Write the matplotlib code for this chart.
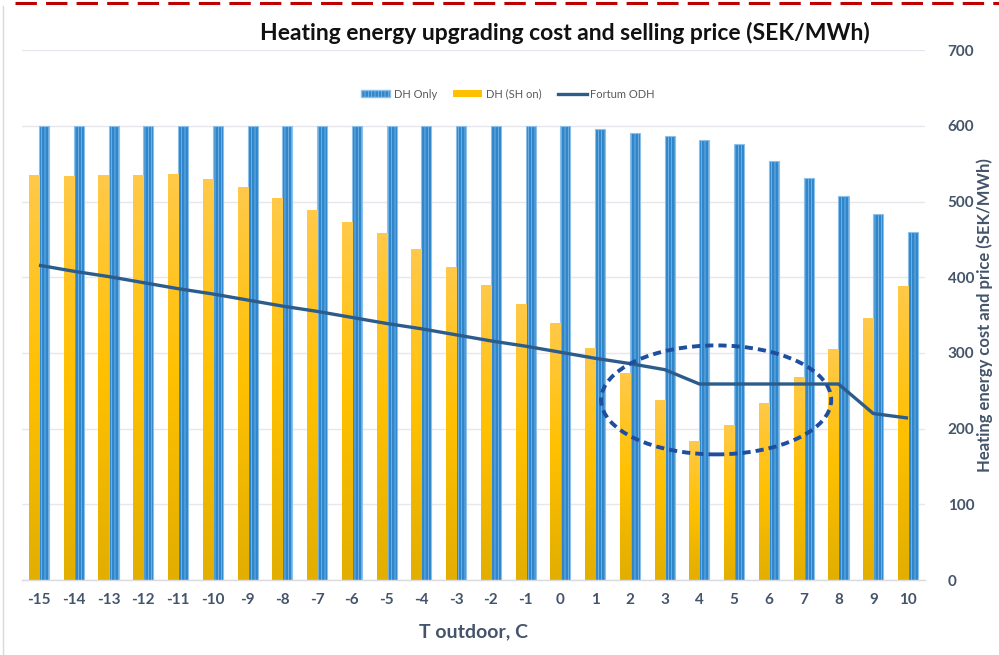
import numpy as np
import matplotlib
matplotlib.use("Agg")
import matplotlib.pyplot as plt
from matplotlib.patches import Ellipse, Patch
from matplotlib.lines import Line2D
from matplotlib.colors import LinearSegmentedColormap

# Outdoor temperature categories
temps = list(range(-15, 11))

# Upgrading cost, district heating only (SEK/MWh)
dh_only = [600, 600, 600, 600, 600, 600, 600, 600, 600, 600, 600, 600, 600, 600, 600, 600,
           596, 591, 587, 581, 576, 554, 531, 507, 484, 460]

# Upgrading cost, district heating with SH on (SEK/MWh)
dh_sh_on = [535, 534, 535, 535, 537, 530, 519, 505, 489, 473, 459, 437, 414, 390, 365, 340,
            307, 274, 238, 184, 205, 234, 268, 305, 346, 388]

# Fortum open district heating selling price (SEK/MWh)
fortum_odh = [416, 408, 401, 393, 385, 378, 370, 362, 355, 347, 339, 332, 324, 316, 309, 301,
              293, 286, 278, 259, 259, 259, 259, 259, 220, 214]

right_ticks = [0, 100, 200, 300, 400, 500, 600, 700]

plt.rcParams["font.family"] = ["Lato", "DejaVu Sans"]
plt.rcParams["hatch.linewidth"] = 0.5

TEXT = "#44546A"
BLUE = "#2F86CB"
BLUE_EDGE = "#8DC0EA"
LINE = "#2B5C8C"

fig = plt.figure(figsize=(9.99, 6.55), dpi=100)
ax = fig.add_axes([21.6 / 999, 75 / 655, (925.4 - 21.6) / 999, (580 - 50.3) / 655])

x = np.arange(len(temps))
w = 0.288

# Yellow bars with a vertical gradient fill
gold = LinearSegmentedColormap.from_list("gold", ["#E2AE00", "#FFC000", "#FFC94A"])
grad = np.linspace(0, 1, 256).reshape(-1, 1)
ybars = ax.bar(x - w / 2, dh_sh_on, width=w, color="#FFC000", edgecolor="none", zorder=2)
for b in ybars:
    x0, h = b.get_x(), b.get_height()
    im = ax.imshow(grad, extent=[x0, x0 + w, 0, h], origin="lower", cmap=gold,
                   aspect="auto", zorder=2.1, interpolation="bilinear")
    im.set_clip_path(b)

# Blue textured bars
ax.bar(x + w / 2, dh_only, width=w, color=BLUE, edgecolor=BLUE_EDGE, linewidth=0.8,
       hatch="|||||", zorder=2)

# Selling price line
ax.plot(x, fortum_odh, color=LINE, lw=2.4, zorder=4, solid_capstyle="butt")

# Highlight of the low-temperature region
ell = Ellipse((4.48 + 15, 238), width=6.62, height=144, fill=False,
              edgecolor="#1F4E9E", lw=2.8, linestyle=(0, (2.1, 1.3)), zorder=5)
ax.add_patch(ell)

ax.set_xlim(-0.5, len(temps) - 0.5)
ax.set_ylim(0, 700)
ax.set_xticks(x)
ax.set_xticklabels([str(t) for t in temps])
ax.yaxis.tick_right()
ax.set_yticks(right_ticks)
ax.tick_params(axis="both", length=0, labelsize=11, labelcolor=TEXT)
ax.tick_params(axis="x", pad=9)
ax.tick_params(axis="y", pad=16)
for lab in ax.get_xticklabels() + ax.get_yticklabels():
    lab.set_fontweight("bold")

ax.grid(axis="y", color="#E6E6EC", lw=1, zorder=0)
ax.set_axisbelow(True)
for s in ["top", "left", "right"]:
    ax.spines[s].set_visible(False)
ax.spines["bottom"].set_color("#DADADF")
ax.spines["bottom"].set_linewidth(1)

ax.set_xlabel("T outdoor, C", fontsize=14, fontweight="bold", color=TEXT, labelpad=12)
ax.set_ylabel("Heating energy cost and price (SEK/MWh)", fontsize=12, fontweight="bold",
              color=TEXT, rotation=90, va="center", ha="center")
ax.yaxis.set_label_coords((985 - 21.6) / 903.8, 0.5)

fig.text(565 / 999, 1 - 33 / 655, "Heating energy upgrading cost and selling price (SEK/MWh)",
         ha="center", va="center", fontsize=16.5, fontweight="bold", color="#111111")

handles = [
    Patch(facecolor=BLUE, edgecolor=BLUE_EDGE, hatch="|||||", label="DH Only"),
    Patch(facecolor="#FFC000", edgecolor="none", label="DH (SH on)"),
    Line2D([0], [0], color=LINE, lw=2.4, label="Fortum ODH"),
]
leg = fig.legend(handles=handles, loc="center", bbox_to_anchor=(508 / 999, 1 - 94 / 655),
                 ncol=3, frameon=False, fontsize=8, handlelength=2.6, handleheight=0.55,
                 columnspacing=1.5, handletextpad=0.3)
for t in leg.get_texts():
    t.set_color("#595959")

# Frame decorations: red dashed top edge and thin grey left edge
fig.add_artist(Line2D([15 / 999, 1.0], [1 - 3 / 655, 1 - 3 / 655], transform=fig.transFigure,
                      color="#C00000", lw=2.2, linestyle=(0, (7, 3))))
fig.add_artist(Line2D([3 / 999, 3 / 999], [0, 1 - 6 / 655], transform=fig.transFigure,
                      color="#D9D9D9", lw=1))

fig.savefig("out.png", dpi=100)
